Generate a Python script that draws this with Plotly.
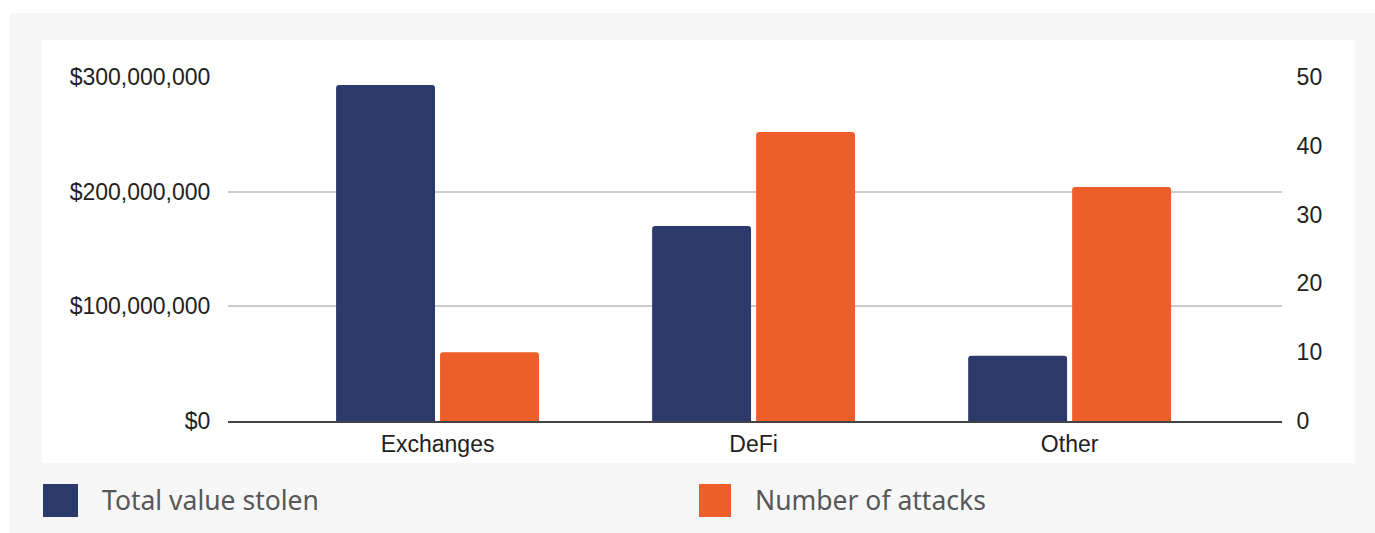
import plotly.graph_objects as go

categories = ["Exchanges", "DeFi", "Other"]
value_stolen = [293_000_000, 170_000_000, 57_000_000]
attack_count = [10, 42, 34]
value_ticks = [0, 100_000_000, 200_000_000, 300_000_000]
legend_names = ["Total value stolen", "Number of attacks"]

NAVY = "#2b396b"
ORANGE = "#ee5e2b"

W, H = 1375, 533
L, R, T, B = 228, 1282, 77, 421


def px_x(v):
    return (v - L) / (R - L)


def px_y(v):
    return (B - v) / (B - T)


fig = go.Figure()
fig.add_trace(go.Bar(
    x=categories, y=value_stolen, name=legend_names[0],
    marker=dict(color=NAVY, cornerradius=3, line=dict(width=0)),
    width=0.313, offset=-0.321, yaxis="y",
))
fig.add_trace(go.Bar(
    x=categories, y=attack_count, name=legend_names[1],
    marker=dict(color=ORANGE, cornerradius=3, line=dict(width=0)),
    width=0.313, offset=0.008, yaxis="y2",
))

# page backgrounds
fig.add_shape(type="rect", xref="paper", yref="paper", layer="below",
              x0=px_x(10), x1=px_x(1380), y0=px_y(540), y1=px_y(13),
              fillcolor="#f7f7f7", line=dict(width=0))
fig.add_shape(type="rect", xref="paper", yref="paper", layer="below",
              x0=px_x(42), x1=px_x(1355), y0=px_y(463), y1=px_y(40),
              fillcolor="white", line=dict(width=0))

# custom legend
legend_items = [(43, 78, legend_names[0], NAVY), (699, 731, legend_names[1], ORANGE)]
for x0, x1, name, col in legend_items:
    fig.add_shape(type="rect", xref="paper", yref="paper",
                  x0=px_x(x0), x1=px_x(x1), y0=px_y(517), y1=px_y(484),
                  fillcolor=col, line=dict(width=0))
    fig.add_annotation(xref="paper", yref="paper", x=px_x(x1 + 22), y=px_y(499.5),
                       xanchor="left", yanchor="middle", showarrow=False, text=name,
                       font=dict(family="Noto Sans", size=26.5, color="#575757"))

fig.update_layout(
    width=W, height=H,
    margin=dict(l=L, r=W - R, t=T, b=H - B),
    paper_bgcolor="white", plot_bgcolor="rgba(0,0,0,0)",
    showlegend=False,
    font=dict(family="Liberation Sans, Arial", size=23, color="#222222"),
    xaxis=dict(range=[-0.663, 2.672], showline=True, linecolor="#444444", linewidth=1.5,
               showgrid=False, ticks="outside", ticklen=2, tickcolor="rgba(0,0,0,0)"),
    yaxis=dict(range=[0, 300_000_000], tickvals=value_ticks, tickformat="$,.0f",
               showgrid=True, gridcolor="#cccccc", gridwidth=1.5,
               zeroline=False, ticks="outside", ticklen=12, tickcolor="rgba(0,0,0,0)"),
    yaxis2=dict(range=[0, 50], dtick=10, overlaying="y", side="right", showgrid=False,
                zeroline=False, ticks="outside", ticklen=9, tickcolor="rgba(0,0,0,0)"),
)

# drop the browser's default body margin so the figure fills the window
fig.write_html("out.html", config={"displayModeBar": False},
               post_script="document.body.style.margin = '0';")
